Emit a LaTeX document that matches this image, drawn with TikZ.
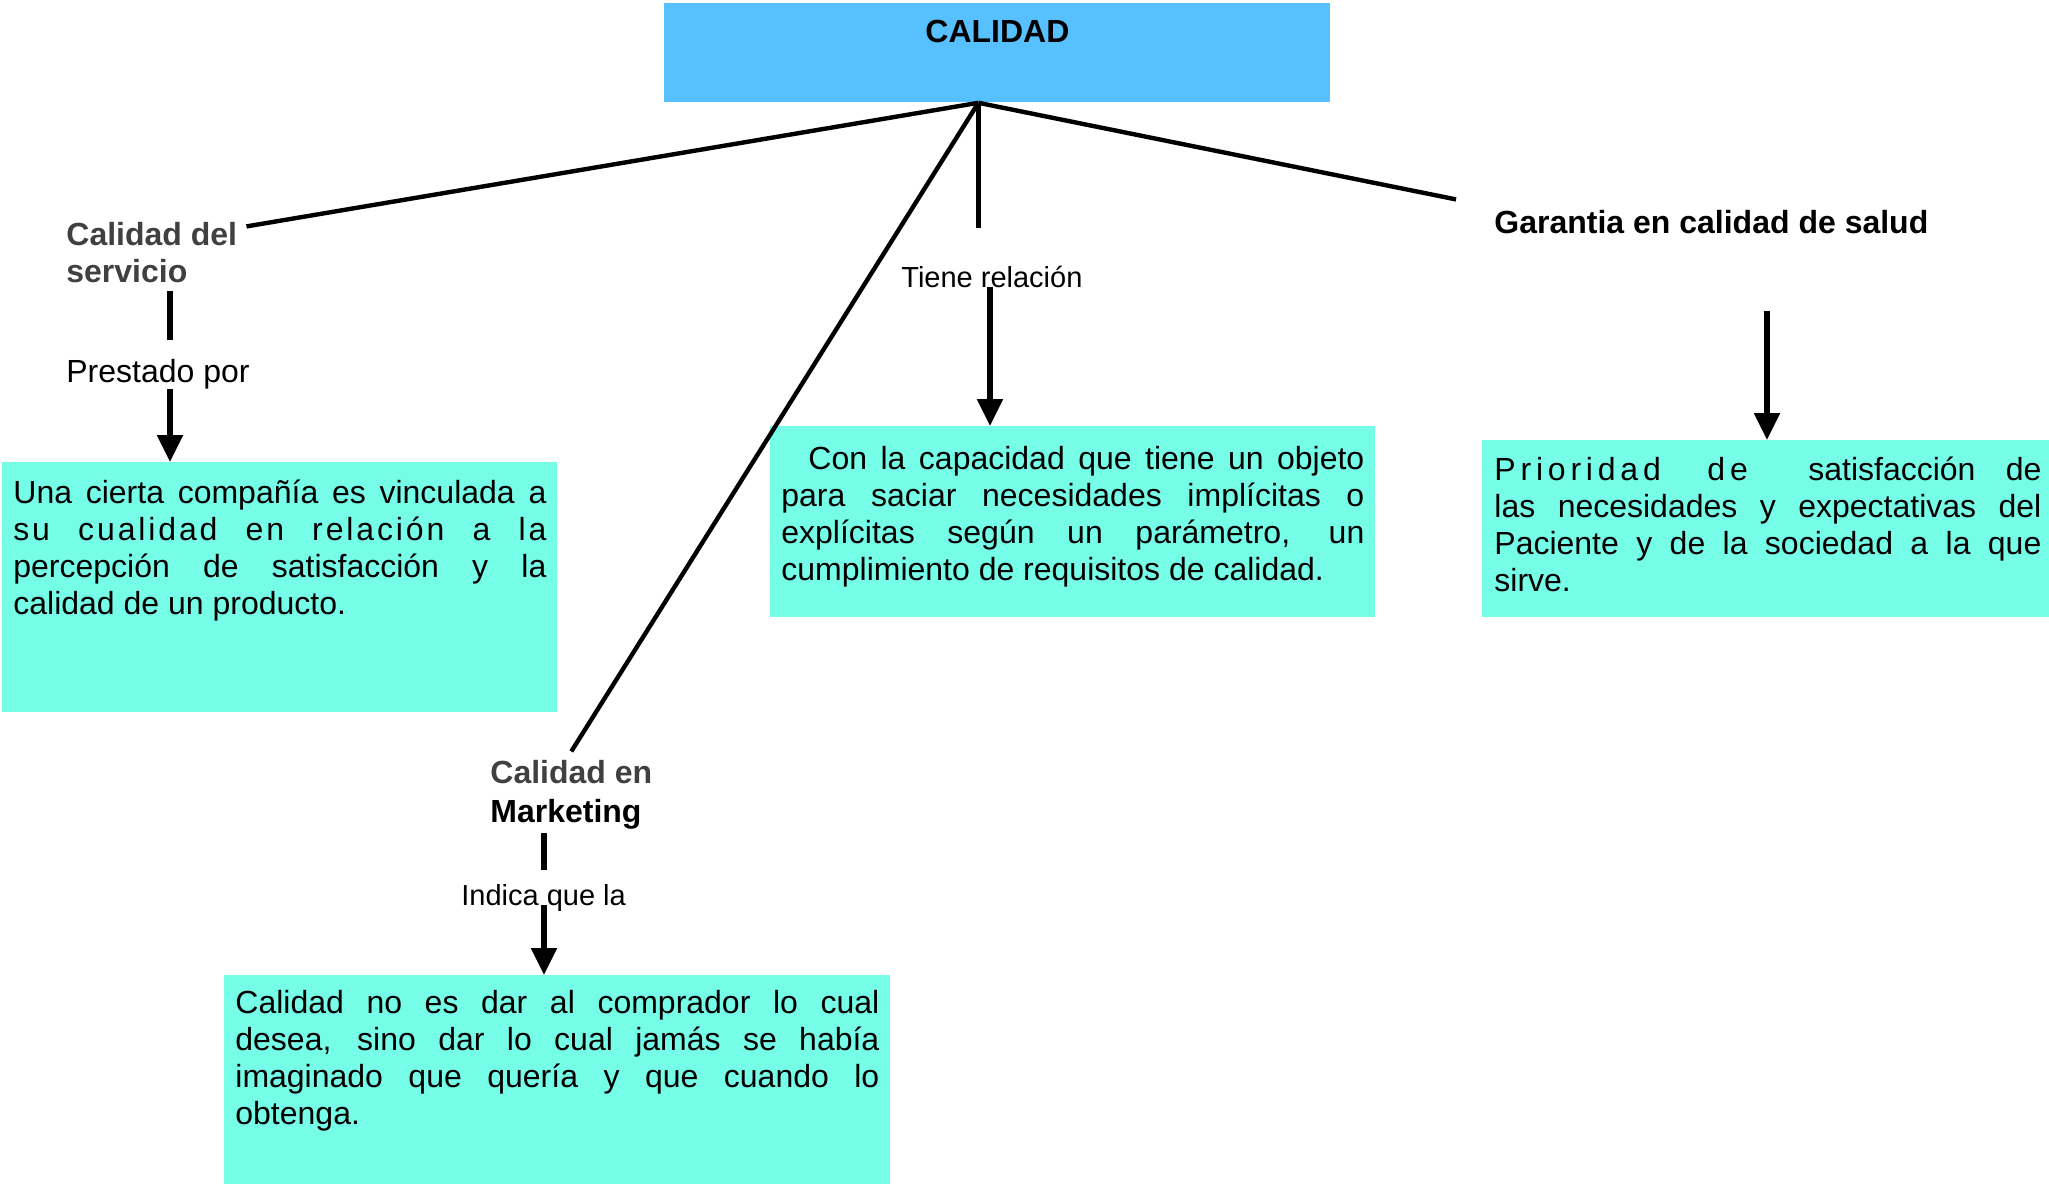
\documentclass[tikz,border=0pt]{standalone}
\usepackage{fontspec}
\setmainfont{Liberation Sans}
\usetikzlibrary{arrows.meta}
\definecolor{rootblue}{HTML}{57C1FF}
\definecolor{boxcyan}{HTML}{76FDE8}
\definecolor{topicgray}{HTML}{404040}

\begin{document}
\begin{tikzpicture}[
  x=0.5pt, y=-0.5pt,
  rootbox/.style={fill=rootblue, inner sep=0pt, anchor=north west, font=\fontsize{16}{18.5}\selectfont\bfseries},
  textbox/.style={fill=boxcyan, inner xsep=5.5pt, inner ysep=0pt, anchor=north west, font=\fontsize{16}{18.5}\selectfont},
  topic/.style={inner sep=0pt, anchor=base west, align=left, text=topicgray, font=\fontsize{16}{18.5}\selectfont\bfseries},
  linklabel/.style={inner sep=0pt, anchor=base west, font=\fontsize{14.5}{17}\selectfont},
  link/.style={line width=2.2pt},
  stem/.style={line width=2.8pt},
  arrow/.style={stem, -{Triangle[width=12.5pt,length=13.5pt]}}
]
\useasboundingbox (0,0) rectangle (2049,1183);

% root and hub
\node[rootbox] (calidad) at (664,3) {\parbox[c][49.5pt][t]{333pt}{\centering\rule{0pt}{19.5pt}CALIDAD}};
\coordinate (hub) at ([xshift=-9.5pt]calidad.south);

% topics
\node[topic] (servicio) at (66,282) {Calidad del\\servicio};
\node[topic] (marketing) at (490,822) {Calidad en\\[1pt]{\color{black}Marketing}};
\node[topic, text=black] (garantia) at (1494,233) {Garantia en calidad de salud};

% link labels
\node[linklabel, font=\fontsize{16}{18.5}\selectfont] (prestado) at (66,382) {Prestado por};
\node[linklabel] (tiene) at (901,287) {Tiene relación};
\node[linklabel] (indica) at (461,905) {Indica que la};

% definitions
\node[textbox] (box1) at (2,462) {\parbox[c][125pt][t]{266.5pt}{%
  \rule{0pt}{20.5pt}\makebox[\linewidth][s]{Una cierta compañía es vinculada a}\\
  \makebox[\linewidth][s]{\addfontfeature{LetterSpace=9}su cualidad en relación a la}\\
  \makebox[\linewidth][s]{percepción de satisfacción y la}\\
  calidad de un producto.}};
\node[textbox] (box2) at (770,426) {\parbox[c][95.5pt][t]{291.5pt}{%
  \rule{0pt}{21.5pt}\makebox[\linewidth][s]{\hspace*{13.5pt}Con la capacidad que tiene un objeto}\\
  \makebox[\linewidth][s]{para saciar necesidades implícitas o}\\
  \makebox[\linewidth][s]{explícitas según un parámetro, un}\\
  cumplimiento de requisitos de calidad.}};
\node[textbox, inner xsep=6pt] (box3) at (1482,440) {\parbox[c][88.5pt][t]{273.5pt}{%
  \rule{0pt}{20pt}\makebox[\linewidth][s]{{\addfontfeature{LetterSpace=15}Prioridad de}\ \ satisfacción de}\\
  \makebox[\linewidth][s]{las necesidades y expectativas del}\\
  \makebox[\linewidth][s]{Paciente y de la sociedad a la que}\\
  sirve.}};
\node[textbox] (box4) at (224,975) {\parbox[c][105pt][t]{322pt}{%
  \rule{0pt}{19pt}\makebox[\linewidth][s]{Calidad no es dar al comprador lo cual}\\
  \makebox[\linewidth][s]{desea, sino dar lo cual jamás se había}\\
  \makebox[\linewidth][s]{imaginado que quería y que cuando lo}\\
  obtenga.}};

% arrow targets
\coordinate (t1) at ([xshift=84pt]box1.north west);
\coordinate (t2) at ([xshift=110pt]box2.north west);
\coordinate (t3) at ([xshift=142.5pt]box3.north west);
\coordinate (t4) at ([xshift=160pt]box4.north west);

% connectors
\draw[link] (hub) -- ([shift={(4.5pt,-2.5pt)}]servicio.north east);
\draw[link] (hub) -- ([yshift=4pt]marketing.north);
\draw[link] (hub) -- ([shift={(-19pt,5pt)}]garantia.north west);
\draw[stem, shorten >=18.5pt] (hub) -- (hub |- tiene.north);

\draw[stem, shorten <=4pt, shorten >=9pt] (servicio.south -| t1) -- (prestado.north -| t1);
\draw[arrow] (prestado.south -| t1) -- (t1);
\draw[arrow] (tiene.base -| t2) -- (t2);
\draw[arrow, shorten <=39pt] (garantia.base -| t3) -- (t3);
\draw[stem, shorten <=2pt, shorten >=7pt] (marketing.south -| t4) -- (indica.north -| t4);
\draw[arrow] (indica.base -| t4) -- (t4);
\end{tikzpicture}
\end{document}
